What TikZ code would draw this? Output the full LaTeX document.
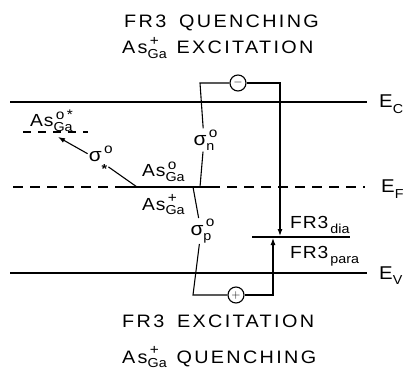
\documentclass[tikz,border=0pt]{standalone}
\usepackage{fontspec}
\setmainfont[FakeStretch=1.1]{Liberation Sans}
\newfontfamily\spacedfont[FakeStretch=1.1,LetterSpace=13]{Liberation Sans}
\newfontfamily\labfont[FakeStretch=1.1,LetterSpace=5]{Liberation Sans}
\newfontfamily\plainfont[FakeStretch=1.1]{Liberation Sans}
\usetikzlibrary{arrows.meta}
% base, superscript, subscript
\newcommand\supsub[3]{#1\rlap{\raisebox{0.45em}{\plainfont\fontsize{14}{14}\selectfont\,#2}}\raisebox{-0.25em}{\plainfont\fontsize{13}{13}\selectfont #3}}
\newcommand\sbs[2]{#1\raisebox{-0.3em}{\plainfont\fontsize{13}{13}\selectfont #2}}
\newcommand\lowstar{\raisebox{-0.5em}{\bfseries *}}
\begin{document}
\begin{tikzpicture}[x=1pt,y=-1pt,
  band/.style={line width=1.4pt},
  wire/.style={line width=1.1pt},
  efdash/.style={line width=1.4pt, dash pattern=on 10pt off 7pt},
  lab/.style={font=\labfont\fontsize{17.5}{20}\selectfont, inner sep=1pt},
  slab/.style={font=\labfont\fontsize{19}{21}\selectfont, inner sep=1pt},
  elab/.style={font=\plainfont\fontsize{18.5}{21}\selectfont, inner sep=0pt, anchor=base west},
  ttl/.style={font=\spacedfont\fontsize{18}{20}\selectfont, inner sep=0pt, anchor=base west},
  sgn/.style={circle, draw, line width=1.1pt, minimum size=16pt, inner sep=0pt, font=\plainfont\fontsize{13}{13}\selectfont},
  tip/.style={-{Latex[length=7pt,width=5pt]}}
  ]
\path[use as bounding box] (0,0) rectangle (406,371);

% titles
\node[ttl] (t1) at (124,28) {FR3\hspace{5pt} QUENCHING};
\node[ttl] (t2) at (122,54) {\supsub{As}{+}{Ga}\hspace{2pt} EXCITATION};
\node[ttl] (b1t) at (122,327) {FR3\hspace{5pt} EXCITATION};
\node[ttl] (b2t) at (122,363) {\supsub{As}{+}{Ga}\hspace{2pt} QUENCHING};

% band edges
\coordinate (ecL) at (10,102);
\coordinate (ecR) at (367,102);
\coordinate (evL) at (10,273);
\coordinate (evR) at (367,273);
\coordinate (efL) at (13,187);
\coordinate (efR) at (365,187);
\coordinate (asL) at (120,187);
\coordinate (asR) at (220,187);
\draw[band] (ecL) -- (ecR);
\draw[band] (evL) -- (evR);
\draw[efdash] (efL) -- (asL);
\draw[efdash] ([xshift=7pt]asR) -- (efR);
\draw[band] (asL) -- (asR);
\node[elab] (EC) at (379,108) {\sbs{E}{C}};
\node[elab] (EF) at (381,193) {\sbs{E}{F}};
\node[elab] (EV) at (379,279) {\sbs{E}{V}};

% As_Ga levels
\node[lab, anchor=base west] (as0) at (141,177) {\supsub{As}{o}{Ga}};
\node[lab, anchor=base west] (asp) at (141,210) {\supsub{As}{+}{Ga}};

% excited state
\node[lab, anchor=base west] (asx) at (29,127) {\supsub{As}{o\,*}{Ga}};
\coordinate (xL) at (23,132);
\coordinate (xR) at (88,132);
\draw[line width=1.1pt, dash pattern=on 8pt off 7pt] (xL) -- (xR);
\coordinate (xs) at (137,187);
\coordinate (xt) at (58,137);
\node[slab, anchor=base] (sx) at (98,162) {\supsub{σ}{o}{\lowstar}};
\draw[wire] (xs) -- (sx);
\draw[wire, tip] (sx) -- (xt);

% FR3 level
\coordinate (frL) at (252,237);
\coordinate (frR) at (350,237);
\draw[band] (frL) -- (frR);
\node[lab, anchor=base west] (frd) at (289,228) {\sbs{FR3}{\,dia}};
\node[lab, anchor=base west] (frp) at (289,258) {\sbs{FR3}{\,para}};

% upper circuit
\coordinate (tl) at (200,83);
\coordinate (tr) at (280,83);
\coordinate (tb) at (200,187);
\coordinate (fd) at (280,236);
\node[sgn, fill=white] (minus) at (238,83) {$-$};
\node[slab, fill=white] (sn) at (204,140) {\supsub{σ}{o}{n}};
\draw[wire] (tb) -- (sn);
\draw[wire] (sn) -- (tl) -- (minus);
\draw[wire, tip] (minus) -- (tr) -- (fd);

% lower circuit
\coordinate (bt) at (193,187);
\coordinate (bl) at (193,295);
\coordinate (br) at (273,295);
\coordinate (fu) at (273,238);
\node[sgn, fill=white] (plus) at (236,295) {$+$};
\node[slab] (sp) at (201,231) {\supsub{σ}{o}{p}};
\draw[wire] (bt) -- (sp);
\draw[wire] (sp) -- (bl) -- (plus);
\draw[wire, tip] (plus) -- (br) -- (fu);
\end{tikzpicture}
\end{document}
